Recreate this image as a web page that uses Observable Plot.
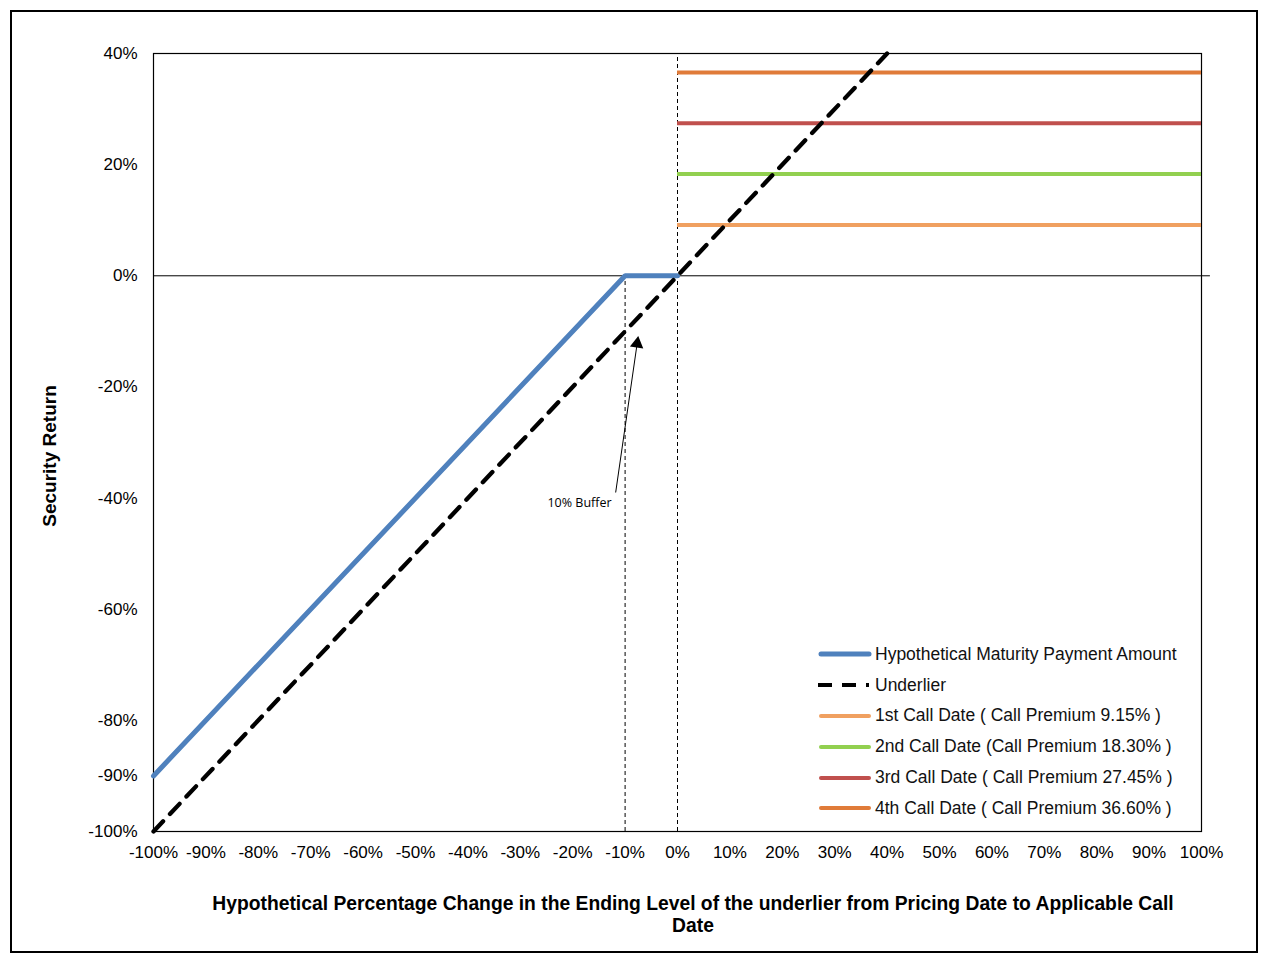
<!DOCTYPE html>
<html>
<head>
<meta charset="utf-8">
<script src="https://cdn.jsdelivr.net/npm/d3@7"></script>
<script src="https://cdn.jsdelivr.net/npm/@observablehq/plot@0.6"></script>
<style>
  html, body { margin: 0; padding: 0; background: #fff; }
  #wrap { position: relative; width: 1268px; height: 969px; font-family: "Liberation Sans", Arial, sans-serif; }
  #border { position: absolute; left: 10px; top: 10px; width: 1244px; height: 939px; border: 2px solid #000; pointer-events: none; }
  #ytitle { position: absolute; left: 50px; top: 456px; transform: translate(-50%, -50%) rotate(-90deg); font-weight: bold; font-size: 19px; white-space: nowrap; }
  #xtitle { position: absolute; left: 143px; top: 893px; width: 1100px; text-align: center; font-weight: bold; font-size: 19.3px; line-height: 22px; }
  #legend { position: absolute; left: 818px; top: 639px; font-size: 17.5px; color: #111; }
  .row { height: 30.8px; display: flex; align-items: center; }
  .row svg { margin-right: 3px; }
</style>
</head>
<body>
<div id="wrap">
  <div id="chart"></div>
  <div id="border"></div>
  <div id="ytitle"></div>
  <div id="xtitle"></div>
  <div id="legend"></div>
</div>
<script>
// ---- data ----
const xTicks = [-100, -90, -80, -70, -60, -50, -40, -30, -20, -10, 0, 10, 20, 30, 40, 50, 60, 70, 80, 90, 100];
const yTicks = [40, 20, 0, -20, -40, -60, -80, -90, -100];
const payoffX = [-100, -10, 0];
const payoffY = [-90, 0, 0];
const underlierX = [-100, 40];
const underlierY = [-100, 40];
const callPremiums = [9.15, 18.30, 27.45, 36.60];
const callColors = ["#F0A060", "#92D050", "#C0504D", "#E07B39"];
const callNames = ["1st Call Date ( Call Premium 9.15% )", "2nd Call Date (Call Premium 18.30% )", "3rd Call Date ( Call Premium 27.45% )", "4th Call Date ( Call Premium 36.60% )"];
const callStart = 0;
const callEnd = 100;
const bufferLevel = -10;
const annotText = "10% Buffer";
const annotPos = [-18.7, -40.8];
const arrowFrom = [-11.8, -39.0];
const arrowTo = [-7.7, -12.2];
const yTitle = "Security Return";
const xTitleLines = ["Hypothetical Percentage Change in the Ending Level of the underlier from Pricing Date to Applicable Call", "Date"];
const legendNames = ["Hypothetical Maturity Payment Amount", "Underlier", ...callNames];
const legendColors = ["#4F81BD", "#000000", ...callColors];

const pct = d => d + "%";
const payoff = payoffX.map((x, i) => ({x, y: payoffY[i]}));
const under = underlierX.map((x, i) => ({x, y: underlierY[i]}));
const calls = callPremiums.map((p, i) => ({x1: callStart, x2: callEnd, y: p, c: callColors[i]}));

// arrow angle in screen space
const sx = (1201 - 153) / 200, sy = (831 - 53) / 140;
const ang = Math.atan2((arrowTo[0] - arrowFrom[0]) * sx, (arrowTo[1] - arrowFrom[1]) * sy) * 180 / Math.PI;

const chart = Plot.plot({
  width: 1268, height: 969,
  marginLeft: 153, marginRight: 67, marginTop: 53, marginBottom: 138,
  x: {domain: [-100, 100]},
  y: {domain: [-100, 40]},
  style: {fontFamily: "'Liberation Sans', Arial, sans-serif", fontSize: "17px", color: "#000", background: "transparent"},
  marks: [
    Plot.axisX({ticks: xTicks, tickFormat: pct, tickSize: 0, tickPadding: 14, label: null}),
    Plot.axisY({ticks: yTicks, tickFormat: pct, tickSize: 0, tickPadding: 16, label: null}),
    Plot.ruleY([0], {x1: -100, x2: 101.7, stroke: "#000", strokeWidth: 1}),
    Plot.ruleX([callStart], {y1: -100, y2: 40, stroke: "#000", strokeWidth: 1, strokeDasharray: "4,3"}),
    Plot.ruleX([bufferLevel], {y1: -100, y2: 0, stroke: "#000", strokeWidth: 1, strokeDasharray: "4,3"}),
    Plot.frame({stroke: "#000", strokeWidth: 1.2}),
    Plot.ruleY(calls, {x1: "x1", x2: "x2", y: "y", stroke: "c", strokeWidth: 4}),
    Plot.line(payoff, {x: "x", y: "y", stroke: "#4F81BD", strokeWidth: 5, strokeLinejoin: "miter"}),
    Plot.line(under, {x: "x", y: "y", stroke: "#000", strokeWidth: 4.3, strokeDasharray: "14,10"}),
    Plot.link([{x1: arrowFrom[0], y1: arrowFrom[1], x2: arrowTo[0], y2: arrowTo[1]}], {x1: "x1", y1: "y1", x2: "x2", y2: "y2", stroke: "#000", strokeWidth: 1}),
    Plot.dot([{x: arrowTo[0], y: arrowTo[1]}], {x: "x", y: "y", symbol: "triangle", r: 5, fill: "#000", stroke: "none", rotate: ang}),
    Plot.text([{x: annotPos[0], y: annotPos[1], t: annotText}], {x: "x", y: "y", text: "t", fontSize: 12.5, fontFamily: "'Open Sans', 'DejaVu Sans', sans-serif", fill: "#000"})
  ]
});
document.getElementById("chart").appendChild(chart);

document.getElementById("ytitle").textContent = yTitle;
document.getElementById("xtitle").innerHTML = xTitleLines.join("<br>");

const leg = document.getElementById("legend");
legendNames.forEach((name, i) => {
  const row = document.createElement("div");
  row.className = "row";
  const dash = i === 1 ? 'stroke-dasharray="14,10" stroke-width="4"' : (i === 0 ? 'stroke-width="5" stroke-linecap="round"' : 'stroke-width="4" stroke-linecap="round"');
  row.innerHTML = `<svg width="54" height="10"><line x1="${i===1?0:3}" y1="5" x2="51" y2="5" stroke="${legendColors[i]}" ${dash}/></svg><span>${name}</span>`;
  leg.appendChild(row);
});
</script>
</body>
</html>
